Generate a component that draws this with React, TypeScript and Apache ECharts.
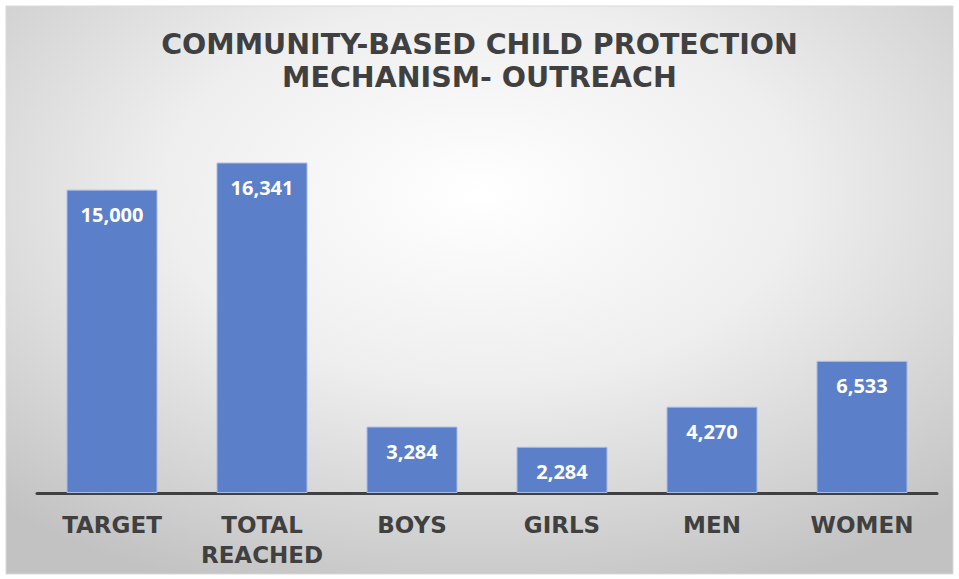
import React, { useEffect, useRef } from "react";
import * as echarts from "echarts";

const categories = ["TARGET", "TOTAL\nREACHED", "BOYS", "GIRLS", "MEN", "WOMEN"];
const values = [15000, 16341, 3284, 2284, 4270, 6533];
const titleText = "COMMUNITY-BASED CHILD PROTECTION\nMECHANISM- OUTREACH";

export default function App() {
  const ref = useRef<HTMLDivElement>(null);
  useEffect(() => {
    if (!ref.current) return;
    const chart = echarts.init(ref.current, null, { renderer: "svg" });
    chart.setOption({
      animation: false,
      graphic: [
        {
          type: "rect",
          z: -10,
          silent: true,
          shape: { x: 6, y: 6, width: 947, height: 568 },
          style: {
            fill: new echarts.graphic.RadialGradient(0.5, 0.33, 0.75, [
              { offset: 0, color: "#ffffff" },
              { offset: 0.45, color: "#eeeeee" },
              { offset: 1, color: "#c2c2c2" },
            ]),
            stroke: "#d9d9d9",
            lineWidth: 1,
          },
        },
      ],
      title: {
        text: titleText,
        left: "center",
        top: 23,
        textStyle: {
          fontFamily: "DejaVu Sans",
          fontWeight: "bold",
          fontSize: 28.5,
          lineHeight: 33,
          color: "#404040",
        },
      },
      grid: { left: 37, right: 22, top: 129, bottom: 86 },
      xAxis: {
        type: "category",
        data: categories,
        axisLine: { lineStyle: { color: "#404040", width: 3 } },
        axisTick: { show: false },
        axisLabel: {
          fontFamily: "DejaVu Sans",
          fontWeight: "bold",
          fontSize: 23,
          lineHeight: 30,
          color: "#404040",
          margin: 17,
          verticalAlign: "top",
          interval: 0,
        },
      },
      yAxis: {
        type: "value",
        min: 0,
        max: 18000,
        show: false,
        splitLine: { show: false },
      },
      series: [
        {
          type: "bar",
          data: values,
          barWidth: 91,
          itemStyle: {
            color: "#5b80c9",
            borderColor: "#a8bbe2",
            borderWidth: 1,
          },
          label: {
            show: true,
            position: "insideTop",
            distance: 15,
            color: "#ffffff",
            fontFamily: "Open Sans",
            fontWeight: "bold",
            fontSize: 20,
            formatter: (p: any) => p.value.toLocaleString("en-US"),
          },
        },
      ],
    });
    return () => chart.dispose();
  }, []);
  return (
    <div
      ref={ref}
      style={{ position: "absolute", left: 0, top: 0, width: 959, height: 579 }}
    />
  );
}
